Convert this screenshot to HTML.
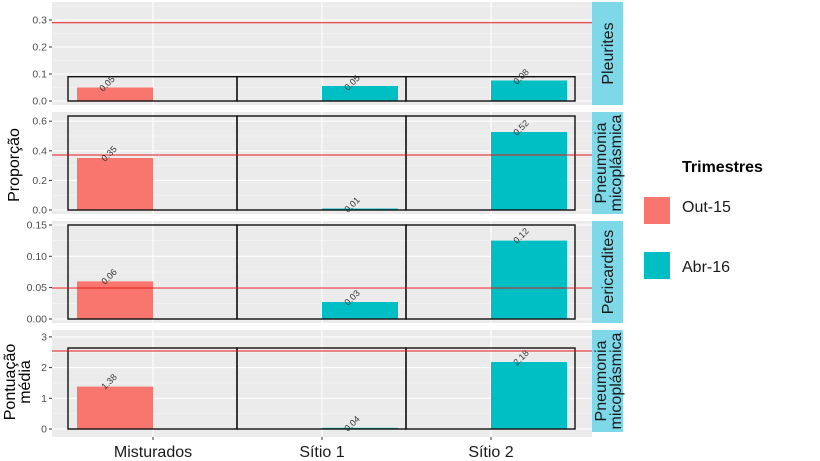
<!DOCTYPE html>
<html><head><meta charset="utf-8"><style>body{margin:0;background:#fff}svg{display:block}text{font-family:"Liberation Sans",Arial,sans-serif}</style></head><body>
<svg width="820" height="461" xmlns="http://www.w3.org/2000/svg">
<!-- panel 1 -->
<g>
<rect x="52" y="2" width="540" height="103" fill="#ebebeb"/>
<g stroke="#f5f5f5" stroke-width="0.6"><line x1="52" x2="592" y1="87.5" y2="87.5"/><line x1="52" x2="592" y1="60.5" y2="60.5"/><line x1="52" x2="592" y1="33.5" y2="33.5"/><line x1="52" x2="592" y1="6.5" y2="6.5"/></g>
<g stroke="#fff" stroke-width="1.1"><line x1="52" x2="592" y1="101" y2="101"/><line x1="52" x2="592" y1="74" y2="74"/><line x1="52" x2="592" y1="47" y2="47"/><line x1="52" x2="592" y1="20" y2="20"/><line x1="153" x2="153" y1="2" y2="105"/><line x1="322" x2="322" y1="2" y2="105"/><line x1="491" x2="491" y1="2" y2="105"/></g>
<rect x="77" y="87.5" width="76" height="13.5" fill="#f8766d"/>
<rect x="322" y="86" width="76" height="15" fill="#00bfc4"/>
<rect x="491" y="80.5" width="76" height="20.5" fill="#00bfc4"/>
<g fill="none" stroke="#111" stroke-width="1.4"><rect x="68" y="76.7" width="169" height="24.3"/><rect x="237" y="76.7" width="169" height="24.3"/><rect x="406" y="76.7" width="169" height="24.3"/></g>
<line x1="52" x2="592" y1="22.7" y2="22.7" stroke="#e41a1c" stroke-width="1"/>
<g font-size="9" fill="#333"><text transform="translate(103,92) rotate(-45)">0.05</text><text transform="translate(348,91) rotate(-45)">0.05</text><text transform="translate(517,85) rotate(-45)">0.08</text></g>
<g font-size="10.5" fill="#4d4d4d" text-anchor="end"><text x="47" y="104.5">0.0</text><text x="47" y="77.5">0.1</text><text x="47" y="50.5">0.2</text><text x="47" y="23.5">0.3</text></g>
<g stroke="#333"><line x1="49" x2="52" y1="101" y2="101"/><line x1="49" x2="52" y1="74" y2="74"/><line x1="49" x2="52" y1="47" y2="47"/><line x1="49" x2="52" y1="20" y2="20"/></g>
<rect x="592" y="2" width="31" height="103" fill="#7fd8e8"/>
<text transform="translate(613,53.5) rotate(-90)" font-size="16" text-anchor="middle" fill="#1a1a1a">Pleurites</text>
</g>
<!-- panel 2 -->
<g>
<rect x="52" y="112" width="540" height="102" fill="#ebebeb"/>
<g stroke="#f5f5f5" stroke-width="0.6"><line x1="52" x2="592" y1="195.2" y2="195.2"/><line x1="52" x2="592" y1="165.6" y2="165.6"/><line x1="52" x2="592" y1="136" y2="136"/></g>
<g stroke="#fff" stroke-width="1.1"><line x1="52" x2="592" y1="210" y2="210"/><line x1="52" x2="592" y1="180.4" y2="180.4"/><line x1="52" x2="592" y1="150.8" y2="150.8"/><line x1="52" x2="592" y1="121.2" y2="121.2"/><line x1="153" x2="153" y1="112" y2="214"/><line x1="322" x2="322" y1="112" y2="214"/><line x1="491" x2="491" y1="112" y2="214"/></g>
<rect x="77" y="158" width="76" height="52" fill="#f8766d"/>
<rect x="322" y="208.5" width="76" height="1.5" fill="#00bfc4"/>
<rect x="491" y="132" width="76" height="78" fill="#00bfc4"/>
<g fill="none" stroke="#111" stroke-width="1.4"><rect x="68" y="116" width="169" height="94"/><rect x="237" y="116" width="169" height="94"/><rect x="406" y="116" width="169" height="94"/></g>
<line x1="52" x2="592" y1="155" y2="155" stroke="#e41a1c" stroke-width="1"/>
<g font-size="9" fill="#333"><text transform="translate(105,162) rotate(-45)">0.35</text><text transform="translate(348,213) rotate(-45)">0.01</text><text transform="translate(517,136) rotate(-45)">0.52</text></g>
<g font-size="10.5" fill="#4d4d4d" text-anchor="end"><text x="47" y="213.5">0.0</text><text x="47" y="183.9">0.2</text><text x="47" y="154.3">0.4</text><text x="47" y="124.7">0.6</text></g>
<g stroke="#333"><line x1="49" x2="52" y1="210" y2="210"/><line x1="49" x2="52" y1="180.4" y2="180.4"/><line x1="49" x2="52" y1="150.8" y2="150.8"/><line x1="49" x2="52" y1="121.2" y2="121.2"/></g>
<rect x="592" y="112" width="31" height="102" fill="#7fd8e8"/>
<text transform="translate(606,163) rotate(-90)" font-size="16" text-anchor="middle" fill="#1a1a1a">Pneumonia</text>
<text transform="translate(621,163) rotate(-90)" font-size="16" text-anchor="middle" fill="#1a1a1a">micoplásmica</text>
</g>
<!-- panel 3 -->
<g>
<rect x="52" y="221" width="540" height="102" fill="#ebebeb"/>
<g stroke="#f5f5f5" stroke-width="0.6"><line x1="52" x2="592" y1="303.3" y2="303.3"/><line x1="52" x2="592" y1="272" y2="272"/><line x1="52" x2="592" y1="240.7" y2="240.7"/></g>
<g stroke="#fff" stroke-width="1.1"><line x1="52" x2="592" y1="319" y2="319"/><line x1="52" x2="592" y1="287.6" y2="287.6"/><line x1="52" x2="592" y1="256.3" y2="256.3"/><line x1="52" x2="592" y1="225" y2="225"/><line x1="153" x2="153" y1="221" y2="323"/><line x1="322" x2="322" y1="221" y2="323"/><line x1="491" x2="491" y1="221" y2="323"/></g>
<rect x="77" y="281.4" width="76" height="37.6" fill="#f8766d"/>
<rect x="322" y="302" width="76" height="17" fill="#00bfc4"/>
<rect x="491" y="240.6" width="76" height="78.4" fill="#00bfc4"/>
<g fill="none" stroke="#111" stroke-width="1.4"><rect x="68" y="225" width="169" height="94"/><rect x="237" y="225" width="169" height="94"/><rect x="406" y="225" width="169" height="94"/></g>
<line x1="52" x2="592" y1="288" y2="288" stroke="#e41a1c" stroke-width="1"/>
<g font-size="9" fill="#333"><text transform="translate(105,285) rotate(-45)">0.06</text><text transform="translate(348,306) rotate(-45)">0.03</text><text transform="translate(517,244) rotate(-45)">0.12</text></g>
<g font-size="10.5" fill="#4d4d4d" text-anchor="end"><text x="47" y="322.5">0.00</text><text x="47" y="291.1">0.05</text><text x="47" y="259.8">0.10</text><text x="47" y="228.5">0.15</text></g>
<g stroke="#333"><line x1="49" x2="52" y1="319" y2="319"/><line x1="49" x2="52" y1="287.6" y2="287.6"/><line x1="49" x2="52" y1="256.3" y2="256.3"/><line x1="49" x2="52" y1="225" y2="225"/></g>
<rect x="592" y="221" width="31" height="102" fill="#7fd8e8"/>
<text transform="translate(613,272) rotate(-90)" font-size="16" text-anchor="middle" fill="#1a1a1a">Pericardites</text>
</g>
<!-- panel 4 -->
<g>
<rect x="52" y="330" width="540" height="107" fill="#ebebeb"/>
<g stroke="#f5f5f5" stroke-width="0.6"><line x1="52" x2="592" y1="413.6" y2="413.6"/><line x1="52" x2="592" y1="383" y2="383"/><line x1="52" x2="592" y1="352.3" y2="352.3"/></g>
<g stroke="#fff" stroke-width="1.1"><line x1="52" x2="592" y1="429" y2="429"/><line x1="52" x2="592" y1="398.3" y2="398.3"/><line x1="52" x2="592" y1="367.6" y2="367.6"/><line x1="52" x2="592" y1="336.9" y2="336.9"/><line x1="153" x2="153" y1="330" y2="437"/><line x1="322" x2="322" y1="330" y2="437"/><line x1="491" x2="491" y1="330" y2="437"/></g>
<rect x="77" y="386.6" width="76" height="42.4" fill="#f8766d"/>
<rect x="322" y="427.8" width="76" height="1.2" fill="#00bfc4"/>
<rect x="491" y="362" width="76" height="67" fill="#00bfc4"/>
<g fill="none" stroke="#111" stroke-width="1.4"><rect x="68" y="348" width="169" height="81"/><rect x="237" y="348" width="169" height="81"/><rect x="406" y="348" width="169" height="81"/></g>
<line x1="52" x2="592" y1="351" y2="351" stroke="#e41a1c" stroke-width="1"/>
<g font-size="9" fill="#333"><text transform="translate(105,390) rotate(-45)">1.38</text><text transform="translate(348,432) rotate(-45)">0.04</text><text transform="translate(517,366) rotate(-45)">2.18</text></g>
<g font-size="10.5" fill="#4d4d4d" text-anchor="end"><text x="47" y="432.5">0</text><text x="47" y="401.8">1</text><text x="47" y="371.1">2</text><text x="47" y="340.4">3</text></g>
<g stroke="#333"><line x1="49" x2="52" y1="429" y2="429"/><line x1="49" x2="52" y1="398.3" y2="398.3"/><line x1="49" x2="52" y1="367.6" y2="367.6"/><line x1="49" x2="52" y1="336.9" y2="336.9"/></g>
<rect x="592" y="330" width="31" height="102" fill="#7fd8e8"/>
<text transform="translate(606,381) rotate(-90)" font-size="16" text-anchor="middle" fill="#1a1a1a">Pneumonia</text>
<text transform="translate(621,381) rotate(-90)" font-size="16" text-anchor="middle" fill="#1a1a1a">micoplásmica</text>
</g>
<!-- x axis -->
<g stroke="#333"><line x1="153" x2="153" y1="437" y2="440"/><line x1="322" x2="322" y1="437" y2="440"/><line x1="491" x2="491" y1="437" y2="440"/></g>
<g font-size="16" fill="#1a1a1a" text-anchor="middle"><text x="153" y="457">Misturados</text><text x="322" y="457">Sítio 1</text><text x="491" y="457">Sítio 2</text></g>
<!-- y titles -->
<text transform="translate(19,165) rotate(-90)" font-size="16" text-anchor="middle" fill="#000">Proporção</text>
<text transform="translate(15,382) rotate(-90)" font-size="16" text-anchor="middle" fill="#000">Pontuação</text>
<text transform="translate(30,382) rotate(-90)" font-size="16" text-anchor="middle" fill="#000">média</text>
<!-- legend -->
<text x="682" y="172" font-size="16" font-weight="bold" fill="#000">Trimestres</text>
<rect x="644" y="197" width="26" height="27" fill="#f8766d"/>
<rect x="644" y="252" width="26" height="27" fill="#00bfc4"/>
<text x="682" y="212" font-size="16" fill="#1a1a1a">Out-15</text>
<text x="682" y="272" font-size="16" fill="#1a1a1a">Abr-16</text>
</svg>
</body></html>
